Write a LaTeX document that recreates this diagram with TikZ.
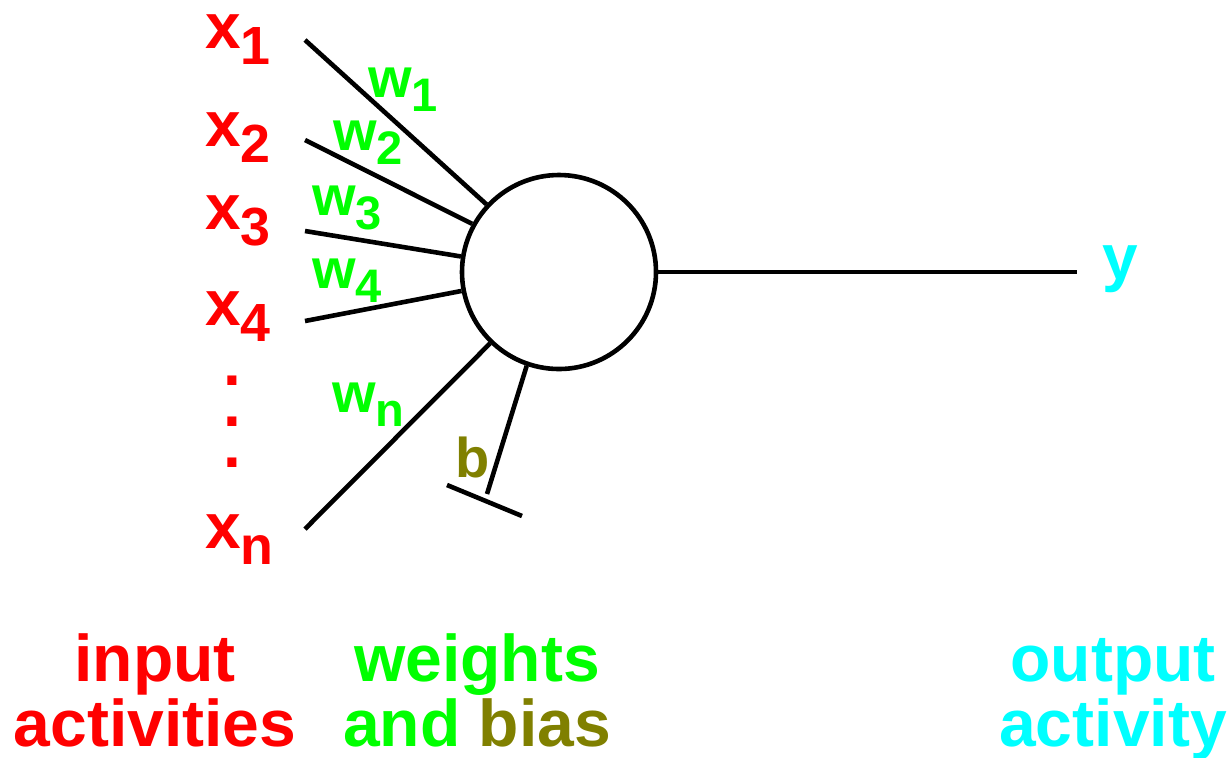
\documentclass[tikz,border=0pt]{standalone}
\usepackage{fontspec}
\setmainfont{Liberation Sans}
\usepackage{xcolor}
\usepackage{tikz}
\usetikzlibrary{positioning, calc}

\definecolor{inred}{HTML}{FF0000}
\definecolor{wgreen}{HTML}{00FF00}
\definecolor{outcyan}{HTML}{00FFFF}
\definecolor{biasolive}{HTML}{808000}

% lowered, smaller index after a letter
\newcommand{\lowsub}[1]{\raisebox{-0.26em}{\scalebox{0.84}{#1}}}

\begin{document}
\begin{tikzpicture}[
    x=0.5pt,y=-0.5pt,
    wire/.style={line width=2.3pt},
    neuron/.style={draw, circle, line width=2.3pt, minimum size=97pt, inner sep=0pt},
    inlab/.style={text=inred, font=\fontsize{32}{36}\selectfont\bfseries,
        anchor=base west, inner sep=0pt},
    wlab/.style={text=wgreen, font=\fontsize{28}{32}\selectfont\bfseries,
        anchor=base west, inner sep=0pt},
    caption/.style={font=\fontsize{33}{32.5}\selectfont\bfseries,
        align=center, anchor=base, inner sep=0pt}
]
\useasboundingbox (0,0) rectangle (1231,757);

% --- Unit ---
\node[neuron] (unit) at (559,272) {};

% --- Input activities ---
\node[inlab] (x1) at (205,48)  {x\lowsub{1}};
\node[inlab] (x2) at (205,146) {x\lowsub{2}};
\node[inlab] (x3) at (205,229) {x\lowsub{3}};
\node[inlab] (x4) at (205,325) {x\lowsub{4}};
\node[inlab] (xn) at (205,548) {x\lowsub{n}};
\node[text=inred, font=\fontsize{32}{20.5}\selectfont\bfseries, align=center,
    anchor=base, inner sep=0pt] (vdots) at (232,467) {.\\.\\.};

\coordinate (in1) at (305,40);
\coordinate (in2) at (305,140);
\coordinate (in3) at (305,231);
\coordinate (in4) at (305,321);
\coordinate (inn) at (305,529);

% --- Weighted connections ---
\draw[wire] (in1) -- (unit.137.5);
\draw[wire] (in2) -- (unit.151);
\draw[wire] (in3) -- (unit.171);
\draw[wire] (in4) -- (unit.191);
\draw[wire] (inn) -- (unit.226);

\node[wlab] (w1) at (368,97)  {w\lowsub{1}};
\node[wlab] (w2) at (333,150) {w\lowsub{2}};
\node[wlab] (w3) at (312,215) {w\lowsub{3}};
\node[wlab] (w4) at (312,288) {w\lowsub{4}};
\node[wlab] (wn) at (332,412) {w\lowsub{n}};

% --- Bias ---
\coordinate (bfoot) at (487,494);
\coordinate (bl) at (447,485);
\coordinate (br) at (522,516);
\draw[wire] (unit.251) -- (bfoot);
\draw[wire] (bl) -- (br);
\node[wlab, text=biasolive] (b) at (455,477) {b};

% --- Output ---
\coordinate (out) at (1077,272);
\draw[wire] (unit.east) -- (out);
\node[inlab, text=outcyan] (y) at (1102,279) {y};

% --- Captions ---
\node[caption, text=inred] (capin) at (155,746) {input\\activities};
\node[caption, text=wgreen] (capw) at (477,746)
    {weights\\and \textcolor{biasolive}{bias}};
\node[caption, text=outcyan] (capout) at (1113,746) {output\\activity};

\end{tikzpicture}
\end{document}
